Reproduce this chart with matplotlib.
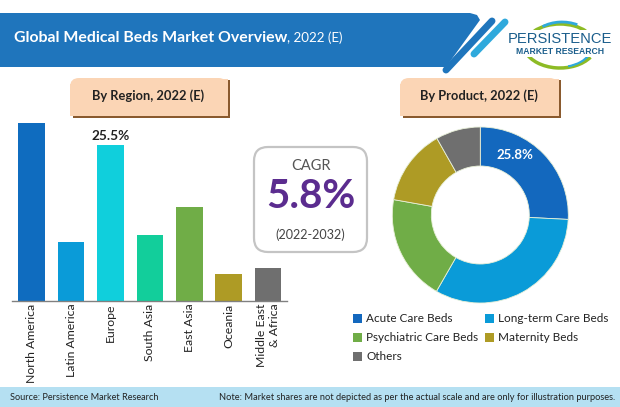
import matplotlib
matplotlib.use('Agg')
import matplotlib.pyplot as plt
from matplotlib.patches import FancyBboxPatch, Polygon, Rectangle, Arc

regions = ['North America', 'Latin America', 'Europe', 'South Asia', 'East Asia', 'Oceania', 'Middle East\n& Africa']
region_share = [29.1, 9.6, 25.5, 10.8, 15.4, 4.4, 5.4]
region_colors = ['#0F6CBF', '#0A9BD8', '#10CFDC', '#12CE9B', '#70AD47', '#AE9B25', '#6F6F6F']

products = ['Acute Care Beds', 'Long-term Care Beds', 'Psychiatric Care Beds', 'Maternity Beds', 'Others']
product_share = [25.8, 32.5, 19.5, 14.0, 8.2]
product_colors = ['#1368BE', '#0A9BD8', '#70AD47', '#AE9B25', '#6F6F6F']

W, H = 620, 407
fig = plt.figure(figsize=(W / 100, H / 100), dpi=100)
plt.rcParams['font.family'] = ['Lato', 'DejaVu Sans']

# background layer in pixels, y going down
bg = fig.add_axes([0, 0, 1, 1])
bg.set_xlim(0, W)
bg.set_ylim(H, 0)
bg.axis('off')

# header band and the two stripes
bg.add_patch(Polygon([(0, 13), (470, 13), (477, 15), (480, 20), (446, 67), (0, 67)], closed=True, fc='#1F75BC', ec='none'))
bg.plot([446, 492], [70, 21], color='#1F75BC', lw=5, solid_capstyle='round')
bg.plot([474, 505], [54, 22], color='#2FA9DC', lw=5, solid_capstyle='round')
bg.text(14, 37.5, 'Global Medical Beds Market Overview', color='white', fontsize=11.4, fontweight='bold', va='center')
bg.text(287, 37.5, ', 2022 (E)', color='white', fontsize=9.6, va='center')

# logo
bg.add_patch(Arc((560, 43), 74, 50, theta1=25, theta2=165, ec='#8DBB25', lw=2.5))
bg.add_patch(Arc((560, 44), 66, 46, theta1=20, theta2=70, ec='#2FA9DC', lw=1.5))
bg.add_patch(Arc((560, 46), 70, 44, theta1=30, theta2=150, ec='#8DBB25', lw=2.5, angle=180))
bg.add_patch(Arc((562, 43), 62, 42, theta1=40, theta2=130, ec='#2FA9DC', lw=2, angle=180))
bg.add_patch(Rectangle((514, 30), 92, 27, fc='white', ec='none'))
bg.text(559.5, 39, 'PERSISTENCE', color='#1B5E8C', fontsize=10.6, family='Liberation Sans', ha='center', va='center')
bg.text(560, 51.5, 'MARKET RESEARCH', color='#1B5E8C', fontsize=6.2, fontweight='bold', family='Liberation Sans', ha='center', va='center')

# section titles
for x0, x1, label in [(70, 230, 'By Region, 2022 (E)'), (400, 561, 'By Product, 2022 (E)')]:
    bg.add_patch(Rectangle((x0 + 3, 84), x1 - x0 - 3, 34, fc='#8A5A2E', ec='none'))
    bg.add_patch(Rectangle((x0, 84), x1 - x0 - 2.5, 31.5, fc='#FBD5B5', ec='none'))
    bg.add_patch(FancyBboxPatch((x0, 78), x1 - x0 - 2.5, 36, boxstyle='round,pad=0,rounding_size=9', fc='#FBD5B5', ec='none'))
    bg.add_patch(Rectangle((x1 - 12, 79), 9.5, 20, fc='#FBD5B5', ec='none'))
    bg.add_patch(Rectangle((x1 - 2.5, 80), 2.5, 20, fc='#8A5A2E', ec='none'))
    bg.text((x0 + x1) / 2 - 2, 96, label, color='#222222', fontsize=9.3, fontweight='bold', ha='center', va='center')

# CAGR box
bg.add_patch(FancyBboxPatch((254, 147), 113, 105, boxstyle='round,pad=0,rounding_size=14', fc='white', ec='#C4C4C4', lw=1.6))
bg.text(310.5, 165.5, 'CAGR', color='#555555', fontsize=10.5, ha='center', va='center')
bg.text(310.5, 197, '5.8%', color='#5B2C8F', fontsize=29, fontweight='bold', ha='center', va='center')
bg.text(310.5, 235, '(2022-2032)', color='#444444', fontsize=9.1, ha='center', va='center')

# footer
bg.add_patch(Rectangle((0, 387), W, 20, fc='#B5E0F2', ec='none'))
bg.text(10, 397.5, 'Source: Persistence Market Research', color='#222222', fontsize=6.6, va='center')
bg.text(615, 397.5, 'Note: Market shares are not depicted as per the actual scale and are only for illustration purposes.',
        color='#222222', fontsize=6.65, ha='right', va='center')

# bars: axes box is 12..287 px wide, baseline at y=301 px
ax = fig.add_axes([12 / W, (H - 301) / H, 275 / W, 181 / H])
ax.patch.set_alpha(0)
ax.bar(range(len(regions)), region_share, width=0.675, color=region_colors)
ax.set_xlim(-0.5, 6.48)
ax.set_ylim(0, 29.6)
for s in ['top', 'left', 'right']:
    ax.spines[s].set_visible(False)
ax.spines['bottom'].set_color('#808080')
ax.spines['bottom'].set_linewidth(1)
ax.set_yticks([])
ax.set_xticks(range(len(regions)))
ax.set_xticklabels(regions, rotation=90, fontsize=8.8, color='#222222', linespacing=1.3, ha='center', va='top')
for t in ax.get_xticklabels():
    t.set_multialignment('right')
ax.tick_params(axis='x', length=0, pad=2)
ax.text(2, region_share[2] + 0.55, '25.5%', color='#222222', fontsize=9.8, fontweight='bold', ha='center', va='bottom')

# donut
r = 88
ax2 = fig.add_axes([(480.3 - r) / W, (H - 215 - r) / H, 2 * r / W, 2 * r / H])
ax2.pie(product_share, colors=product_colors, startangle=90, counterclock=False, radius=1,
        wedgeprops=dict(width=39 / 88, edgecolor='#E8F0D8', linewidth=0.6))
ax2.set_xlim(-1, 1)
ax2.set_ylim(-1, 1)
ax2.text(0.394, 0.68, '25.8%', color='white', fontsize=9.5, fontweight='bold', ha='center', va='center')

# legend
leg_pos = [(353, 318), (485, 318), (353, 337.5), (485, 337.5), (353, 356.5)]
for (lx, ly), name, col in zip(leg_pos, products, product_colors):
    bg.add_patch(Rectangle((lx, ly - 4.5), 9, 9, fc=col, ec='none'))
    bg.text(lx + 13.5, ly, name, color='#222222', fontsize=8.5, va='center')

fig.savefig('out.png', dpi=100)
